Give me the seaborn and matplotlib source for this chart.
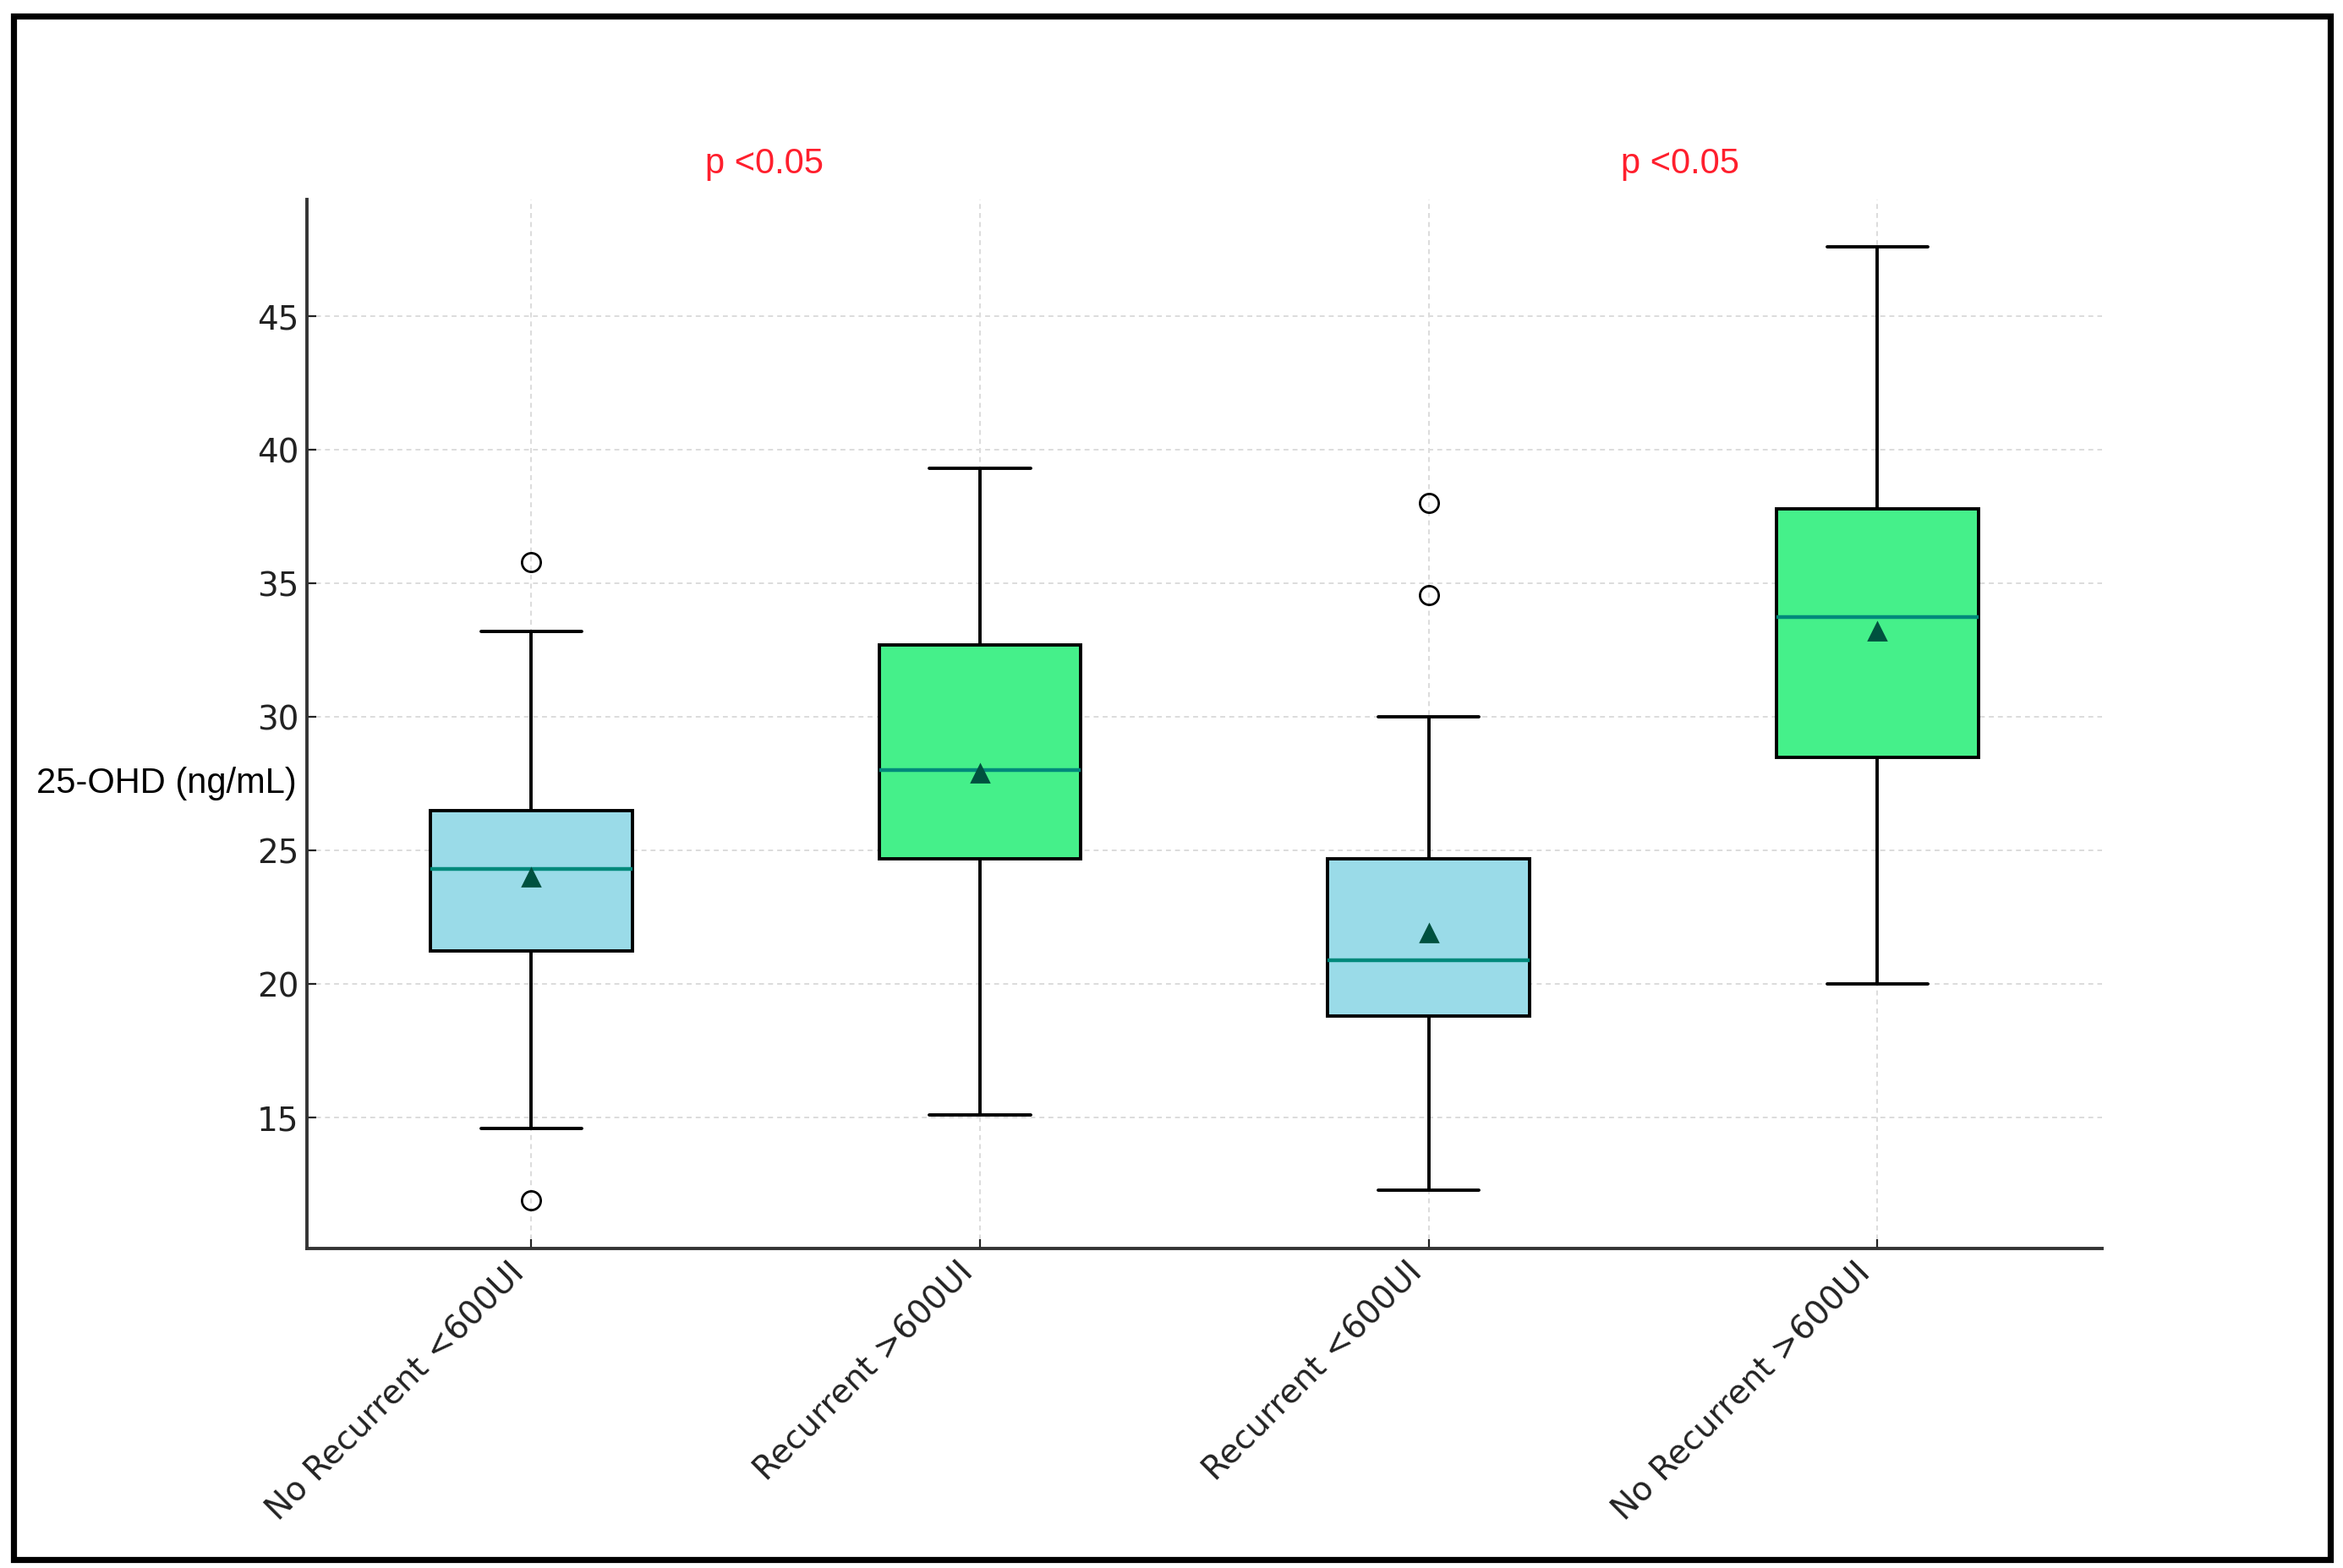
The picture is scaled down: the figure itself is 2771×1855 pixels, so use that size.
import seaborn as sns
import matplotlib.pyplot as plt
import pandas as pd
import numpy as np
from matplotlib.patches import Rectangle

# groups in plotting order
groups = ['No Recurrent <600UI', 'Recurrent >600UI', 'Recurrent <600UI', 'No Recurrent >600UI']

no_rec_low = [11.9, 14.6, 21.25, 23.0, 24.3, 25.45, 26.5, 33.2, 35.8]
rec_high = [15.1, 20.0, 24.7, 26.5, 28.0, 30.0, 32.7, 34.8, 39.3]
rec_low = [12.3, 12.5, 12.8, 18.8, 18.9, 19.2, 20.9, 20.95, 21.1, 24.7, 30.0, 34.55, 38.0]
no_rec_high = [20.0, 24.0, 28.5, 30.5, 33.75, 35.5, 37.8, 41.15, 47.6]

box_colors = ['#9ADBE8', '#45F08A', '#9ADBE8', '#45F08A']
p_labels = ['p <0.05', 'p <0.05']

values = [no_rec_low, rec_high, rec_low, no_rec_high]
df = pd.DataFrame({
    'group': np.repeat(groups, [len(v) for v in values]),
    'ohd': np.concatenate(values),
})

sns.set_style('ticks')
plt.rcParams['font.family'] = ['DejaVu Sans']

fig = plt.figure(figsize=(13.855, 9.275), dpi=200)
ax = fig.add_axes([0.131, 0.204, 0.766, 0.669])

sns.boxplot(
    data=df, x='group', y='ohd', hue='group', order=groups, hue_order=groups,
    palette=box_colors, saturation=1, legend=False, width=0.45, ax=ax,
    linecolor='black', linewidth=1.4,
    showmeans=True,
    meanprops=dict(marker='^', markerfacecolor='#00513f', markeredgecolor='#00513f', markersize=7),
    medianprops=dict(color='#00897b', linewidth=1.6),
    flierprops=dict(marker='o', markerfacecolor='none', markeredgecolor='black', markersize=8),
)

ax.set_axisbelow(True)
ax.grid(True, linestyle=(0, (3, 2.5)), color='#dcdcdc', linewidth=0.7)
sns.despine(ax=ax)
for side in ['left', 'bottom']:
    ax.spines[side].set_color('#333333')
    ax.spines[side].set_linewidth(1.4)

ax.set_yticks([15, 20, 25, 30, 35, 40, 45])
ax.tick_params(direction='in', length=4, labelsize=14, colors='#222222')
ax.set_xlabel('')
plt.setp(ax.get_xticklabels(), rotation=45, ha='right')

ax.set_ylabel('25-OHD (ng/mL)', rotation=0, ha='right', va='center',
              fontsize=15, family='Liberation Sans', color='black')
ax.yaxis.set_label_coords(-0.006, 0.443)

# significance labels above the pairs
for xpos, lab in zip([0.52, 2.56], p_labels):
    ax.text(xpos, 50.7, lab, color='#ff1f2d', fontsize=15, family='Liberation Sans',
            ha='center', va='center', clip_on=False)

# black frame around the whole figure
fig.patches.append(Rectangle((0.00595, 0.00566), 0.98846, 0.98383, transform=fig.transFigure,
                             fill=False, edgecolor='black', linewidth=2.6))

fig.savefig('out.png', dpi=200)
